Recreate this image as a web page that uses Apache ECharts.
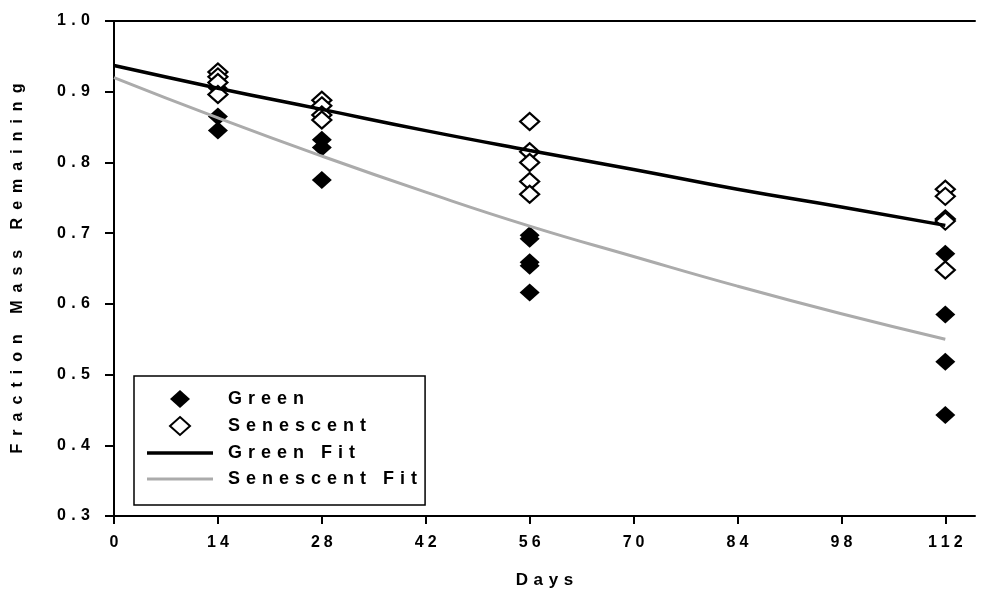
<!DOCTYPE html>
<html>
<head>
<meta charset="utf-8">
<script src="https://cdn.jsdelivr.net/npm/echarts@6/dist/echarts.min.js"></script>
<style>
  html, body { margin: 0; padding: 0; background: #fff; }
  #chart { width: 991px; height: 594px; }
</style>
</head>
<body>
<div id="chart"></div>
<script>
const greenDays = [14, 14, 14, 28, 28, 28, 56, 56, 56, 56, 56, 112, 112, 112, 112];
const greenValues = [0.905, 0.865, 0.845, 0.832, 0.821, 0.775, 0.697, 0.692, 0.659, 0.654, 0.616, 0.671, 0.585, 0.518, 0.443];
const senescentDays = [14, 14, 14, 14, 28, 28, 28, 28, 56, 56, 56, 56, 56, 112, 112, 112, 112, 112];
const senescentValues = [0.928, 0.921, 0.913, 0.896, 0.888, 0.880, 0.867, 0.860, 0.858, 0.815, 0.800, 0.773, 0.755, 0.762, 0.752, 0.720, 0.717, 0.648];

// fitted curves
const fitDays = [0, 14, 28, 42, 56, 70, 84, 98, 112];
const greenFit = [0.937, 0.905, 0.875, 0.845, 0.817, 0.790, 0.762, 0.737, 0.711];
const senescentFit = [0.920, 0.863, 0.809, 0.758, 0.710, 0.667, 0.625, 0.586, 0.550];

const xTicks = [0, 14, 28, 42, 56, 70, 84, 98, 112];

// wide letter spacing like the original figure
const spaced = (s, sp) => String(s).split('').join(sp);
const FONT = 'Liberation Sans';

const chart = echarts.init(document.getElementById('chart'));

const zip = (xs, ys) => xs.map((x, i) => [x, ys[i]]);

// legend icons (keep aspect so the diamonds are not stretched)
const diamondIcon = 'path://M10,0L20,9L10,18L0,9Z';
const lineIcon = 'path://M0,0H66V3.5H0Z';
const thinLineIcon = 'path://M0,0H66V3H0Z';

const option = {
  backgroundColor: '#fff',
  animation: false,
  grid: { left: 114, right: 16, top: 21, bottom: 77, containLabel: false },
  xAxis: [
    {
      type: 'value',
      min: 0,
      max: 116,
      interval: 14,
      name: spaced('Days', '\u2004'),
      nameLocation: 'middle',
      nameGap: 56,
      nameTextStyle: { fontFamily: FONT, fontWeight: 'bold', fontSize: 17, color: '#000' },
      axisLine: { lineStyle: { color: '#000', width: 2 } },
      axisTick: { customValues: xTicks, length: 8, lineStyle: { color: '#000', width: 2 } },
      axisLabel: {
        customValues: xTicks,
        margin: 19,
        fontFamily: FONT, fontWeight: 'bold', fontSize: 16, color: '#000',
        formatter: v => spaced(v, '\u2005')
      },
      splitLine: { show: false }
    },
    {
      // top border of the frame
      type: 'value',
      position: 'top',
      min: 0,
      max: 116,
      axisLine: { lineStyle: { color: '#000', width: 2 } },
      axisTick: { show: false },
      axisLabel: { show: false },
      splitLine: { show: false }
    }
  ],
  yAxis: {
    type: 'value',
    min: 0.3,
    max: 1.0,
    interval: 0.1,
    name: spaced('Fraction Mass Remaining', '\u2002'),
    nameLocation: 'middle',
    nameRotate: 90,
    nameGap: 88,
    nameTextStyle: { fontFamily: FONT, fontWeight: 'bold', fontSize: 16, color: '#000' },
    axisLine: { show: true, lineStyle: { color: '#000', width: 2 } },
    axisTick: { show: true, length: 9, lineStyle: { color: '#000', width: 2 } },
    axisLabel: {
      margin: 24,
      fontFamily: FONT, fontWeight: 'bold', fontSize: 16, color: '#000',
      formatter: v => spaced(v.toFixed(1), '\u2004')
    },
    splitLine: { show: false }
  },
  legend: {
    orient: 'vertical',
    left: 134,
    top: 376,
    padding: [14, 8, 17, 13],
    itemWidth: 66,
    itemHeight: 18,
    itemGap: 8,
    symbolKeepAspect: true,
    borderColor: '#000',
    borderWidth: 1.5,
    backgroundColor: '#fff',
    data: [
      { name: 'Green', icon: diamondIcon },
      { name: 'Senescent', icon: diamondIcon },
      { name: 'Green Fit', icon: lineIcon, itemStyle: { color: '#000', borderWidth: 0 } },
      { name: 'Senescent Fit', icon: thinLineIcon, itemStyle: { color: '#ababab', borderWidth: 0 } }
    ],
    formatter: name => spaced(name, '\u2004'),
    textStyle: { fontFamily: FONT, fontWeight: 'bold', fontSize: 18, color: '#000', padding: [0, 0, 0, 10] }
  },
  series: [
    {
      name: 'Green',
      type: 'scatter',
      symbol: 'diamond',
      symbolSize: [20, 18],
      itemStyle: { color: '#000', opacity: 1 },
      data: zip(greenDays, greenValues),
      z: 3
    },
    {
      name: 'Senescent',
      type: 'scatter',
      symbol: 'diamond',
      symbolSize: [19, 17],
      itemStyle: { color: '#fff', borderColor: '#000', borderWidth: 2.2, opacity: 1 },
      data: zip(senescentDays, senescentValues),
      z: 3
    },
    {
      name: 'Green Fit',
      type: 'line',
      smooth: true,
      showSymbol: false,
      symbol: 'none',
      color: '#000',
      lineStyle: { color: '#000', width: 3.5 },
      data: zip(fitDays, greenFit),
      z: 4
    },
    {
      name: 'Senescent Fit',
      type: 'line',
      smooth: true,
      showSymbol: false,
      symbol: 'none',
      color: '#ababab',
      lineStyle: { color: '#ababab', width: 3 },
      data: zip(fitDays, senescentFit),
      z: 4
    }
  ]
};

chart.setOption(option);
</script>
</body>
</html>
